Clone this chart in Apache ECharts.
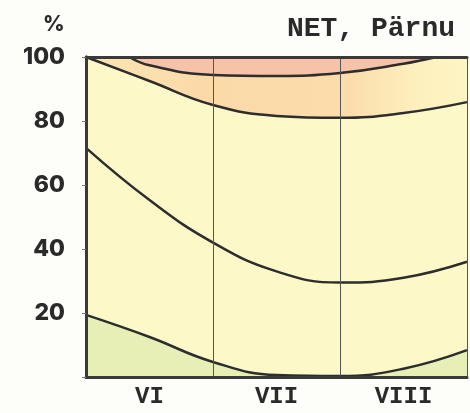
<!DOCTYPE html>
<html>
<head>
<meta charset="utf-8">
<script src="https://cdn.jsdelivr.net/npm/echarts@6/dist/echarts.min.js"></script>
<style>
html,body{margin:0;padding:0;background:#fdfdf9;}
#c{width:470px;height:413px;}
</style>
</head>
<body>
<div id="c"></div>
<script>
// Month categories (x axis labels); curve positions measured in months from start of June
const months = ['VI', 'VII', 'VIII'];
// Percent tick values on y axis
const yTicks = [20, 40, 60, 80, 100];

// Curve values (percent), as [month-time, percent]
const curve1 = [[0, 19.4], [0.5, 12.5], [1.0, 4.7], [1.5, 0.6], [2.0, 0.3], [2.5, 2.6], [3.0, 8.4]];
const curve2 = [[0, 71.6], [0.5, 55.3], [1.0, 42.0], [1.5, 33.0], [2.0, 29.5], [2.5, 31.0], [3.0, 36.0]];
const curve3 = [[0, 100], [0.5, 92.5], [1.0, 85.0], [1.5, 81.6], [2.0, 81.0], [2.5, 82.5], [3.0, 85.9]];
const curve4 = [[0.34, 100], [0.5, 97.4], [1.0, 94.4], [1.5, 94.1], [2.0, 95.0], [2.5, 97.9], [2.76, 100]];

const chart = echarts.init(document.getElementById('c'), null, {renderer: 'canvas'});
const lineColor = '#2d2d2d';
const axisColor = '#3a3a3a';

const option = {
  backgroundColor: '#fdfdf9',
  animation: false,
  grid: {left: 86, top: 57, right: 3, bottom: 36, show: true, backgroundColor: '#fdf8c8', borderWidth: 0},
  graphic: [
    {type: 'text', left: 43, top: 14, style: {text: '%', fontFamily: 'Inter', fontWeight: 800, fontSize: 21, fill: '#2a2a2a'}},
    {type: 'text', right: 15, top: 15, style: {text: 'NET, Pärnu', fontFamily: 'Liberation Mono', fontWeight: 'bold', fontSize: 28, fill: '#2a2a2a'}}
  ],
  xAxis: [
    {type: 'value', min: 0, max: 3, interval: 1, z: 10,
     axisLine: {show: true, lineStyle: {color: axisColor, width: 3}},
     axisTick: {show: false}, axisLabel: {show: false},
     splitLine: {show: true, lineStyle: {color: '#555', width: 1}}},
    {type: 'category', data: months, position: 'bottom', boundaryGap: true, z: 10,
     axisLine: {show: false}, axisTick: {show: false},
     axisLabel: {margin: 8, color: '#2a2a2a', fontFamily: 'Liberation Mono', fontWeight: 'bold', fontSize: 24}},
    {type: 'value', min: 0, max: 3, position: 'top', z: 10,
     axisLine: {show: true, lineStyle: {color: axisColor, width: 3}},
     axisTick: {show: false}, axisLabel: {show: false}, splitLine: {show: false}}
  ],
  yAxis: [
    {type: 'value', min: 0, max: 100, interval: 20, z: 10,
     axisLine: {show: true, lineStyle: {color: axisColor, width: 3}},
     axisTick: {show: true, length: 4, lineStyle: {color: '#777', width: 1}},
     axisLabel: {margin: 21, color: '#2a2a2a', fontFamily: 'Inter', fontWeight: 800, fontSize: 23,
       formatter: function (v) { return yTicks.indexOf(v) >= 0 ? String(v) : ''; }},
     splitLine: {show: false}},
    {type: 'value', min: 0, max: 100, position: 'right', z: 10,
     axisLine: {show: true, lineStyle: {color: axisColor, width: 3}},
     axisTick: {show: false}, axisLabel: {show: false}, splitLine: {show: false}}
  ],
  series: [
    {type: 'line', data: curve3, smooth: 0.45, showSymbol: false, z: 2,
     lineStyle: {color: lineColor, width: 2.5},
     areaStyle: {origin: 'end', opacity: 1, color: new echarts.graphic.LinearGradient(0, 0, 1, 0, [
       {offset: 0, color: '#fce6b4'}, {offset: 0.3, color: '#fbdaa8'}, {offset: 0.68, color: '#fbdcaa'},
       {offset: 0.86, color: '#fdefbd'}, {offset: 1, color: '#fdf5c4'}])}},
    {type: 'line', data: curve4, smooth: 0.45, showSymbol: false, z: 3,
     lineStyle: {color: lineColor, width: 2.5},
     areaStyle: {origin: 'end', opacity: 1, color: '#f6c2a8'}},
    {type: 'line', data: curve1, smooth: 0.45, showSymbol: false, z: 3,
     lineStyle: {color: lineColor, width: 2.5},
     areaStyle: {origin: 'start', opacity: 1, color: '#e7efb6'}},
    {type: 'line', data: curve2, smooth: 0.45, showSymbol: false, z: 3,
     lineStyle: {color: lineColor, width: 2.5}}
  ]
};
chart.setOption(option);
</script>
</body>
</html>
